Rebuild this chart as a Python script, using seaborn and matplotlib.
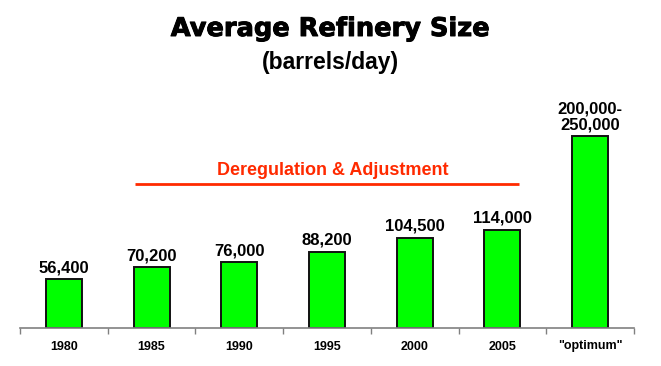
import numpy as np
import pandas as pd
import matplotlib
matplotlib.use("Agg")
import matplotlib.pyplot as plt
import matplotlib.patheffects as pe
import seaborn as sns

# data
years = ["1980", "1985", "1990", "1995", "2000", "2005", "\"optimum\""]
sizes = [56400, 70200, 76000, 88200, 104500, 114000, 222000]
labels = ["56,400", "70,200", "76,000", "88,200", "104,500", "114,000", "200,000-\n250,000"]
period_text = "Deregulation & Adjustment"
period_start = 0.81
period_end = 5.19
period_level = 166700

df = pd.DataFrame({"year": years, "size": sizes})

sns.set_style("white")
plt.rcParams["font.family"] = ["Liberation Sans", "DejaVu Sans"]
plt.rcParams["text.color"] = "black"
plt.rcParams["xtick.color"] = "black"

fig = plt.figure(figsize=(6.61, 3.66), dpi=100)
ax = fig.add_axes([20 / 661, 38 / 366, 614 / 661, 228 / 366])

sns.barplot(data=df, x="year", y="size", color="#00FF00", width=0.41,
            edgecolor="#111111", linewidth=1.4, saturation=1, ax=ax)

ax.set_xlim(-0.5, len(years) - 0.5)
ax.set_ylim(0, 264000)

# value labels above bars
for i, (v, lab) in enumerate(zip(sizes, labels)):
    ax.annotate(lab, (i, v), xytext=(0, 3), textcoords="offset points",
                ha="center", va="bottom", fontsize=12, fontweight="bold",
                linespacing=1.05)

# deregulation period marker
ax.plot([period_start, period_end], [period_level, period_level],
        color="#FF2A00", lw=2, solid_capstyle="butt")
ax.text((period_start + period_end) / 2 + 0.06, period_level + 6000, period_text,
        ha="center", va="bottom", color="#FF2A00", fontsize=13, fontweight="bold")

# axis styling
for s in ["left", "top", "right"]:
    ax.spines[s].set_visible(False)
ax.spines["bottom"].set_color("#808080")
ax.spines["bottom"].set_linewidth(1.2)
ax.set_yticks([])
ax.set_ylabel("")
ax.set_xlabel("")
ax.set_xticks(np.arange(len(years) + 1) - 0.5)
ax.set_xticklabels([])
ax.tick_params(axis="x", which="major", length=4, color="#808080", width=1, bottom=True)
ax.set_xticks(np.arange(len(years)), minor=True)
ax.set_xticklabels(years, minor=True, fontsize=9, fontweight="bold")
ax.tick_params(axis="x", which="minor", length=0, pad=9)

# heavy title, thickened slightly with a stroke to mimic a black-weight face
fig.text(0.5, 1 - 29 / 366, "Average Refinery Size", ha="center", va="center",
         fontsize=18.5, fontweight="heavy", family=["DejaVu Sans"], color="black",
         path_effects=[pe.withStroke(linewidth=0.7, foreground="black")])
fig.text(0.5, 1 - 62 / 366, "(barrels/day)", ha="center", va="center",
         fontsize=16.5, fontweight="bold", color="black")

fig.savefig("out.png", dpi=100)
